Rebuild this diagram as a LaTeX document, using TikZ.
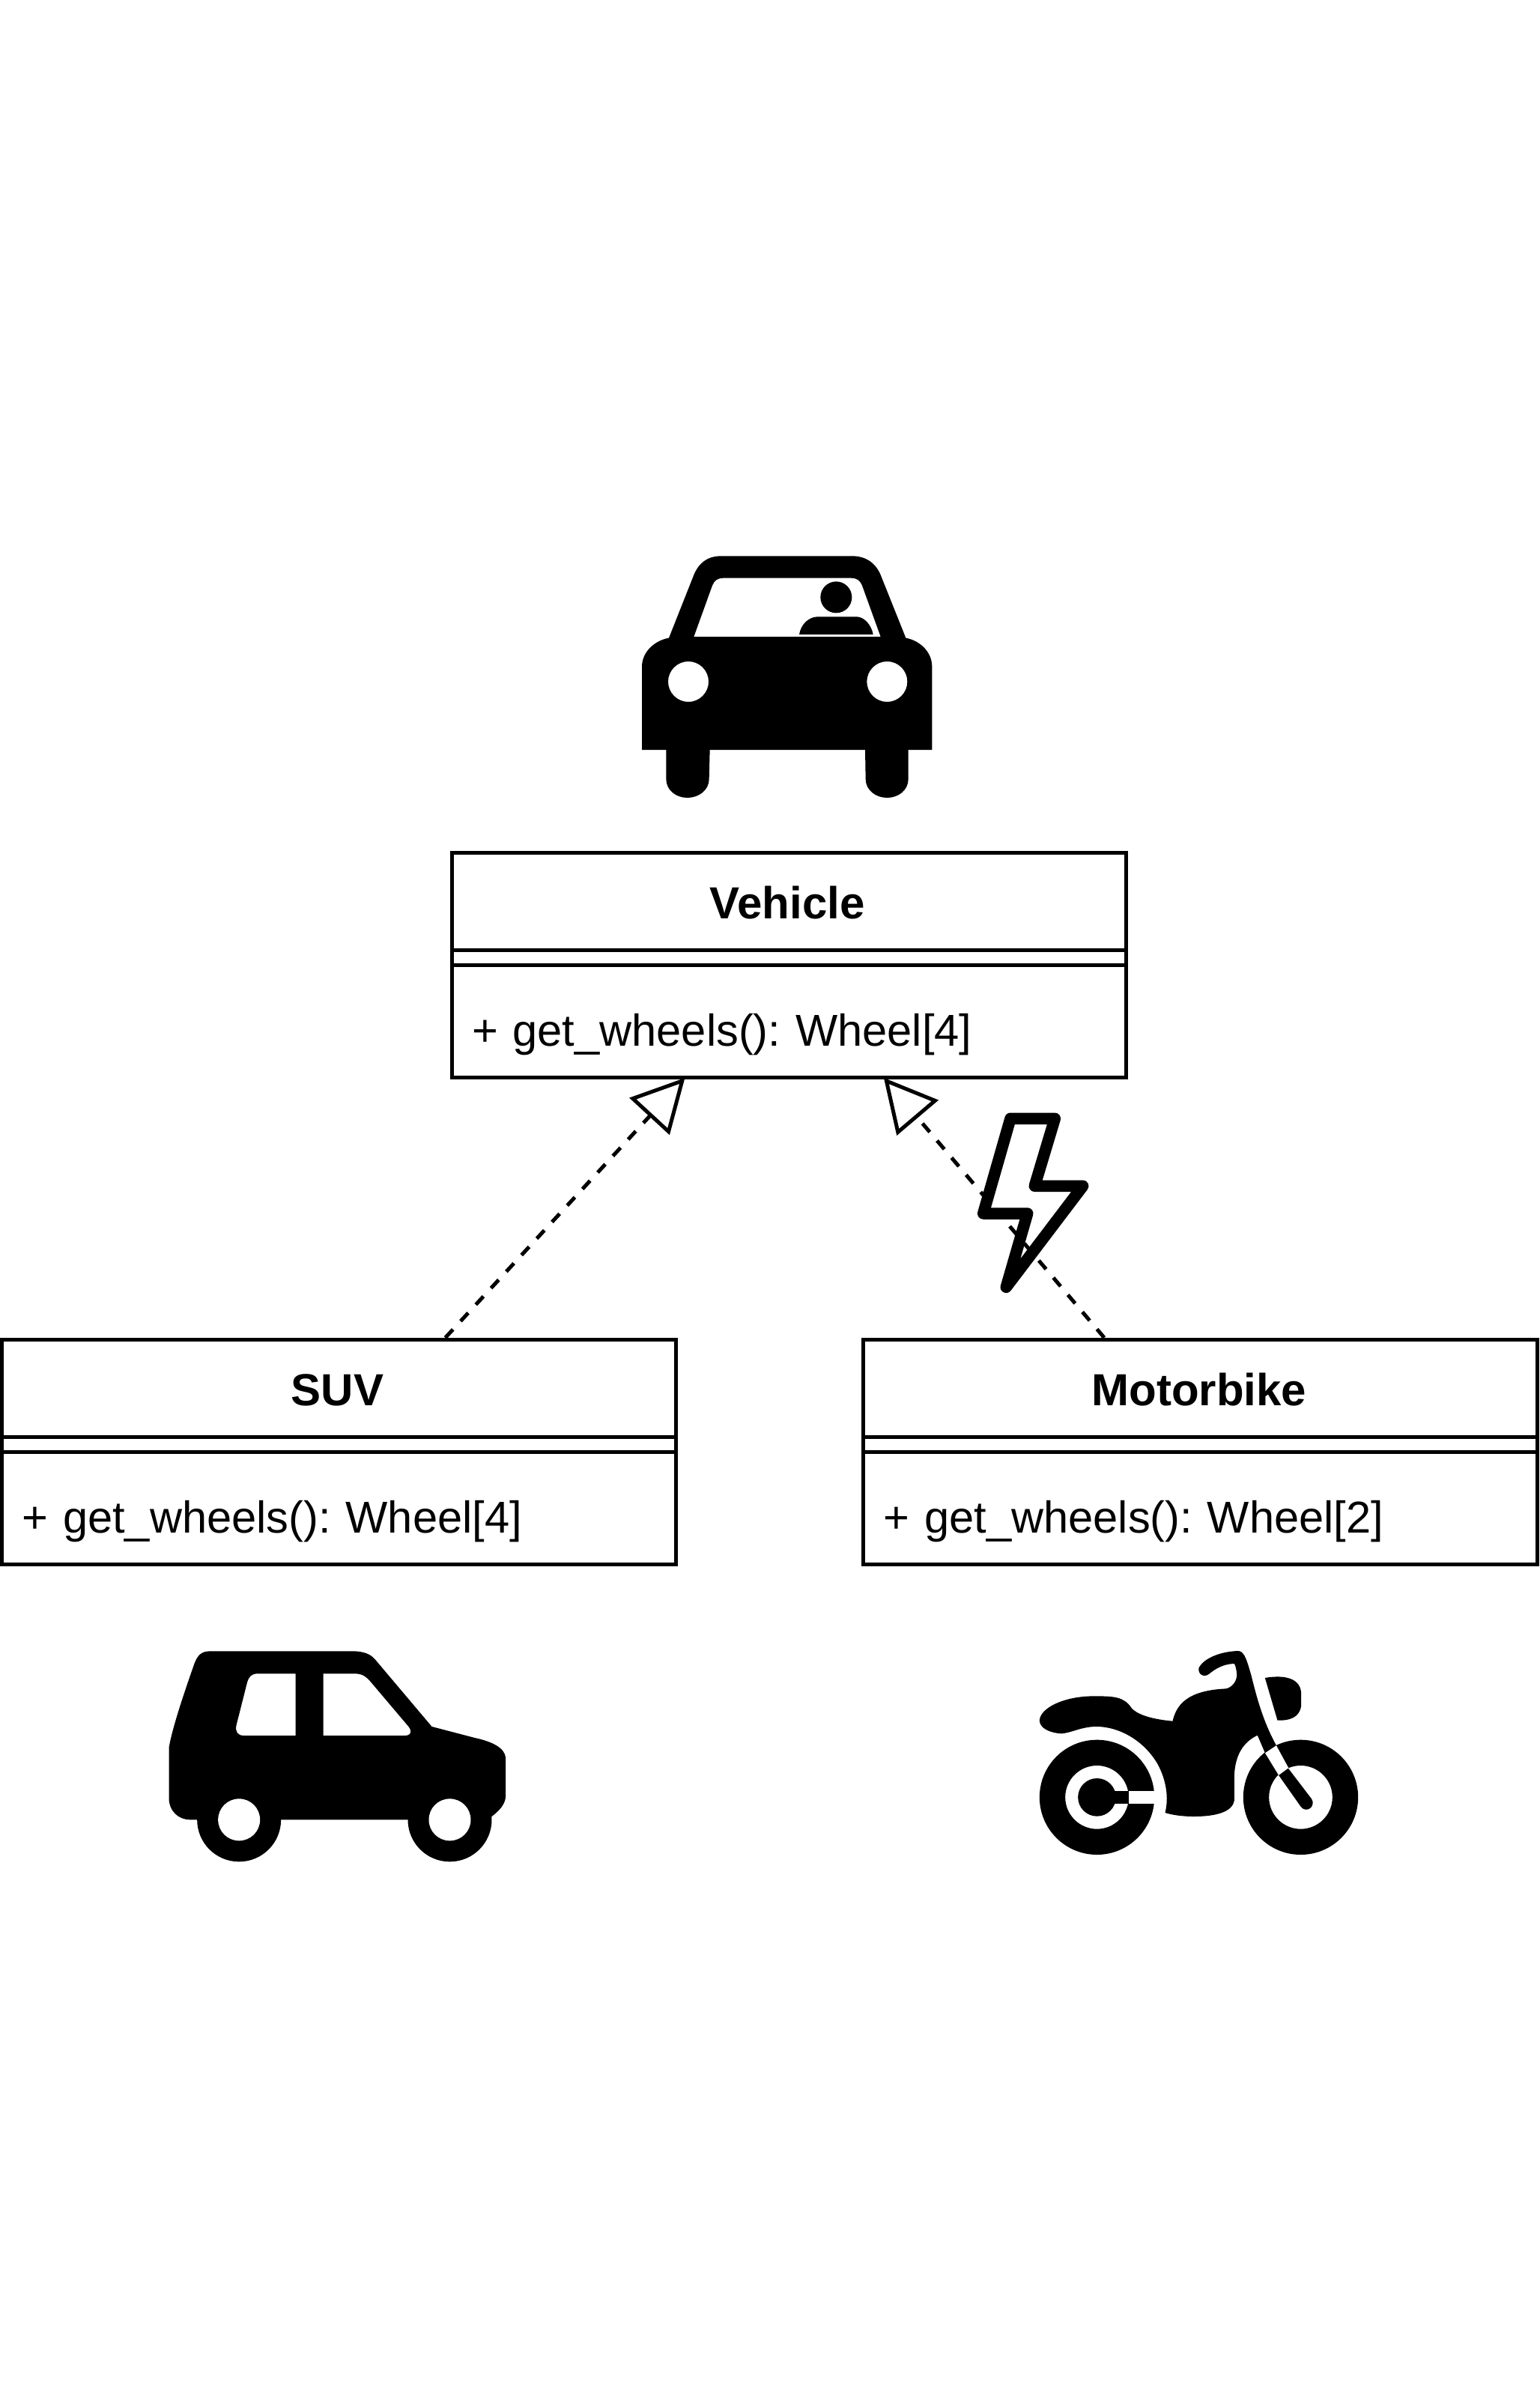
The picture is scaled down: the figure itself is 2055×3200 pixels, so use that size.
\documentclass[tikz,border=0pt]{standalone}
\usepackage{fontspec}
\setmainfont{Liberation Sans}
\usetikzlibrary{calc,arrows.meta}
\tikzset{
  titlebox/.style={draw=black,line width=5pt,minimum width=900pt,minimum height=130pt,inner sep=0pt,
    font=\fontsize{60}{72}\selectfont\bfseries,text height=60pt,text depth=14.6pt,execute at end node=\kern4pt},
  sepbox/.style={draw=black,line width=5pt,minimum width=900pt,minimum height=20pt,inner sep=0pt},
  methodbox/.style={draw=black,line width=5pt,minimum width=900pt,minimum height=150pt,inner ysep=0pt,inner xsep=27pt,
    text width=846pt,align=left,font=\fontsize{59.6}{72}\selectfont\frenchspacing,text height=80pt,text depth=14pt},
  realizes/.style={line width=5pt,dash pattern=on 15pt off 15pt,shorten >=-2.5pt,-{Triangle[open,length=70pt,width=72pt]}},
  icon/.style={fill=black,draw=none,even odd rule}
}
\begin{document}
\begin{tikzpicture}[x=1pt,y=-1pt]
\useasboundingbox (0,0) rectangle (2055,3200);
\fill[white] (0,0) rectangle (2055,3200);

% classes
\node[titlebox] (vehicleT) at (1053,1203.3) {Vehicle};
\node[sepbox] (vehicleS) at (1053,1278.3) {};
\node[methodbox] (vehicleM) at (1053,1363.3) {+ get\_wheels(): Wheel[4]};

\node[titlebox] (suvT) at (452.5,1853.3) {SUV};
\node[sepbox] (suvS) at (452.5,1928.3) {};
\node[methodbox] (suvM) at (452.5,2013.3) {+ get\_wheels(): Wheel[4]};

\node[titlebox] (motoT) at (1602.7,1853.3) {Motorbike};
\node[sepbox] (motoS) at (1602.7,1928.3) {};
\node[methodbox] (motoM) at (1602.7,2013.3) {+ get\_wheels(): Wheel[2]};

% connectors
\draw[realizes] ($(suvT.north west)!0.657!(suvT.north east)$) -- ($(vehicleM.south west)!0.345!(vehicleM.south east)$);
\draw[realizes] ($(motoT.north west)!0.358!(motoT.north east)$) -- ($(vehicleM.south west)!0.642!(vehicleM.south east)$);

% lightning bolt
\draw[line width=15.5pt,line join=round]
  (1349,1493.3) -- (1408.3,1493.3) -- (1381.3,1583.3) -- (1445.7,1583.3) -- (1343.3,1718.3) -- (1371.7,1620) -- (1312.7,1620) -- cycle;

% car (front view)
\begin{scope}[shift={(821,700)},scale=1/3]
\fill[icon]
  (108,903) -- (205,903) -- (205,1020) .. controls (205,1065) and (245,1095) .. (290,1095)
  .. controls (335,1095) and (377,1065) .. (377,1020) -- (380,903) -- (1002,903) -- (1004,1020)
  .. controls (1004,1065) and (1045,1095) .. (1090,1095) .. controls (1135,1095) and (1175,1065) .. (1175,1020)
  -- (1175,903) -- (1270,903) -- (1270,570) .. controls (1270,510) and (1220,465) .. (1165,455)
  -- (1065,205) .. controls (1045,155) and (1005,127) .. (950,127) -- (425,127)
  .. controls (370,127) and (335,155) .. (315,205) -- (216,455)
  .. controls (160,465) and (108,510) .. (108,570) -- cycle
  (316,450) -- (390,245) .. controls (398,225) and (410,215) .. (435,215) -- (945,215)
  .. controls (970,215) and (982,225) .. (990,245) -- (1064,450) -- cycle
  (294,630) circle[radius=81]
  (1090,630) circle[radius=81];
\fill[black] (886,292) circle[radius=63];
\fill[black] (738,441) .. controls (745,400) and (775,372) .. (810,370) -- (970,370)
  .. controls (1000,372) and (1028,405) .. (1034,441) -- cycle;
\end{scope}

% SUV (side view)
\begin{scope}[shift={(200.5,2170)},scale=1/3]
\fill[icon]
  (75,490) -- (75,690) .. controls (75,745) and (115,778) .. (160,778) -- (1350,778) -- (1368,765)
  .. controls (1400,740) and (1424,715) .. (1424,680) -- (1424,530)
  .. controls (1420,490) and (1370,465) .. (1300,450) -- (1128,405) -- (900,135)
  .. controls (880,112) and (850,103) .. (810,103) -- (240,103)
  .. controls (205,103) and (190,120) .. (178,150) .. controls (150,230) and (90,400) .. (75,490) -- cycle
  (582,193) -- (430,193) .. controls (405,193) and (395,205) .. (388,230) -- (345,400)
  .. controls (340,425) and (350,441) .. (375,441) -- (582,441) -- cycle
  (693,193) -- (820,193) .. controls (850,193) and (865,205) .. (880,222) -- (1035,405)
  .. controls (1050,425) and (1045,441) .. (1020,441) -- (693,441) -- cycle;
\fill[black] (356,778) circle[radius=168];
\fill[black] (1200,778) circle[radius=168];
\fill[white] (356,778) circle[radius=84];
\fill[white] (1200,778) circle[radius=84];
\end{scope}

% motorbike
\begin{scope}[shift={(1360.5,2170)},scale=1/3]
% rear wheel
\fill[icon] (312,688) circle[radius=230] (312,688) circle[radius=127];
\fill[white] (432,662) rectangle (550,715);
\fill[black] (312,688) circle[radius=76];
\fill[black] (370,662) rectangle (440,715);
% front wheel
\fill[icon] (1128,688) circle[radius=230] (1128,688) circle[radius=127];
\fill[white] (985,510) -- (1030,480) -- (1080,572) -- (1040,600) -- cycle;
\fill[black] (1040,600) -- (1078,572) -- (1172,695) .. controls (1190,725) and (1150,755) .. (1128,725) -- cycle;
% body, seat, tank, handlebar
\fill[black]
  (82,380) .. controls (85,330) and (180,283) .. (300,283)
  .. controls (380,283) and (420,285) .. (450,330)
  .. controls (480,365) and (560,378) .. (615,383)
  .. controls (630,320) and (670,260) .. (830,253)
  .. controls (860,245) and (875,215) .. (872,190)
  .. controls (868,165) and (865,153) .. (860,153)
  .. controls (820,155) and (790,170) .. (760,195)
  .. controls (740,210) and (715,195) .. (720,170)
  .. controls (740,130) and (810,103) .. (880,102)
  .. controls (905,105) and (915,150) .. (930,200)
  .. controls (950,280) and (975,380) .. (1030,480)
  -- (985,510) -- (955,440)
  .. controls (900,465) and (860,520) .. (862,620)
  -- (862,700)
  .. controls (855,750) and (780,765) .. (700,765)
  .. controls (650,765) and (610,758) .. (585,750)
  .. controls (600,690) and (590,620) .. (555,555)
  .. controls (500,460) and (400,405) .. (310,405)
  .. controls (250,405) and (210,430) .. (170,433)
  .. controls (120,430) and (82,410) .. (82,380) -- cycle;
% headlight
\fill[black] (985,210) .. controls (1040,200) and (1125,200) .. (1130,270) -- (1130,320)
  .. controls (1125,370) and (1080,382) .. (1035,380) -- cycle;
\end{scope}
\end{tikzpicture}
\end{document}
